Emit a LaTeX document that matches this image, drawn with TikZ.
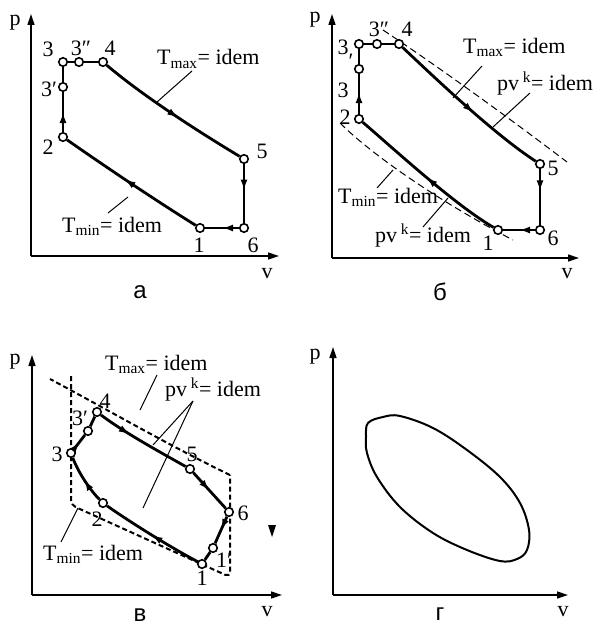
\documentclass[tikz,border=0pt]{standalone}
\usepackage{fontspec}
\setmainfont{Liberation Serif}
\newfontfamily\capfont{Liberation Sans}
\usetikzlibrary{arrows.meta,decorations.markings}
\tikzset{
  pnt/.style  ={draw, circle, minimum size=8.5pt, inner sep=0pt,
                fill=white, line width=1.6pt},
  cyc/.style  ={line width=2.8pt, line join=round},
  marr/.style ={postaction={decorate}, decoration={markings,
                mark=at position #1 with {\arrow{Latex[length=11pt,width=7pt]}}}},
  marr/.default=0.5,
  ax/.style   ={-{Triangle[length=11pt,width=7pt]}, line width=1.5pt},
  lead/.style ={line width=1pt},
  dsh/.style  ={dash pattern=on 7pt off 4pt, line width=1pt},
  dshB/.style ={dash pattern=on 5pt off 3pt, line width=2pt},
  lab/.style  ={font=\fontsize{22}{24}\selectfont, inner sep=0pt},
  capt/.style ={font=\capfont\fontsize{24}{26}\selectfont, inner sep=0pt},
}

\begin{document}
\begin{tikzpicture}[x=1pt,y=-1pt]
  \useasboundingbox (0,0) rectangle (592,626);

  % --- a : cycle with isotherms
  \coordinate (oA) at (31,256);
  \coordinate (pA) at (31,14);
  \coordinate (vA) at (279,256);
  \draw[ax] (oA) -- (pA);
  \draw[ax] (oA) -- (vA);
  \node[lab] (pAl) at (15,23) {p};
  \node[lab] (vAl) at (267,274) {v};
  \node[capt] (capA) at (140,292) {а};
  \node[pnt] (a3)  at (63,62) {};
  \node[pnt] (a3pp) at (79,62) {};
  \node[pnt] (a4)  at (103,62) {};
  \node[pnt] (a3p) at (63,87) {};
  \node[pnt] (a2)  at (63,137) {};
  \node[pnt] (a5)  at (244,159) {};
  \node[pnt] (a6)  at (244,228) {};
  \node[pnt] (a1)  at (200,228) {};
  \draw[cyc, marr] (a2) -- (a3p);
  \draw[cyc] (a3p) -- (a3) -- (a3pp) -- (a4);
  \draw[cyc, marr=0.55] (a4) .. controls (143,96) and (199,132) .. (a5);
  \draw[cyc, marr=0.45] (a5) -- (a6);
  \draw[cyc, marr] (a6) -- (a1);
  \draw[cyc, marr=0.55] (a1) .. controls (155,200) and (103,165) .. (a2);
  \node[lab] (a3l)  at (48,49) {3};
  \node[lab] (a3ppl) at (81,48) {3″};
  \node[lab] (a4l)  at (110,48) {4};
  \node[lab] (a3pl) at (49,89) {3′};
  \node[lab] (a2l)  at (48,147) {2};
  \node[lab] (a5l)  at (262,151) {5};
  \node[lab] (a6l)  at (253,245) {6};
  \node[lab] (a1l)  at (199,245) {1};
  \node[lab, anchor=base west] (aTmax) at (157,65) {T\textsubscript{max}= idem};
  \node[lab, anchor=base west] (aTmin) at (62,232) {T\textsubscript{min}= idem};
  \coordinate (aLa) at (192,71);  \coordinate (aLb) at (157,102);
  \coordinate (aLc) at (128,197); \coordinate (aLd) at (108,213);
  \draw[lead] (aLa) -- (aLb);
  \draw[lead] (aLc) -- (aLd);

  % --- b : cycle with isotherms and adiabats
  \coordinate (oB) at (332,258);
  \coordinate (pB) at (332,14);
  \coordinate (vB) at (579,258);
  \draw[ax] (oB) -- (pB);
  \draw[ax] (oB) -- (vB);
  \node[lab] (pBl) at (315,20) {p};
  \node[lab] (vBl) at (567,274) {v};
  \node[capt] (capB) at (440,292) {б};
  \draw[dsh] (383,30) .. controls (440,68) and (505,115) .. (567,162);
  \draw[dsh] (340,123) .. controls (372,155) and (440,202) .. (513,240);
  \node[pnt] (b3)  at (359,44) {};
  \node[pnt] (b3pp) at (377,44) {};
  \node[pnt] (b4)  at (399,44) {};
  \node[pnt] (b3p) at (359,69) {};
  \node[pnt] (b2)  at (359,119) {};
  \node[pnt] (b5)  at (540,164) {};
  \node[pnt] (b6)  at (540,230) {};
  \node[pnt] (b1)  at (498,230) {};
  \draw[cyc, marr=0.55] (b2) -- (b3p);
  \draw[cyc] (b3p) -- (b3) -- (b3pp) -- (b4);
  \draw[cyc, marr=0.55] (b4) .. controls (435,78) and (495,135) .. (b5);
  \draw[cyc, marr=0.4] (b5) -- (b6);
  \draw[cyc, marr] (b6) -- (b1);
  \draw[cyc, marr=0.5] (b1) .. controls (455,205) and (395,150) .. (b2);
  \node[lab] (b3l)  at (343,47) {3};
  \node[lab] (b3pl) at (351,61) {′};
  \node[lab] (b3ml) at (343,90) {3};
  \node[lab] (b2l)  at (345,117) {2};
  \node[lab] (b3ppl) at (379,29) {3″};
  \node[lab] (b4l)  at (407,29) {4};
  \node[lab] (b5l)  at (553,168) {5};
  \node[lab] (b6l)  at (553,238) {6};
  \node[lab] (b1l)  at (488,243) {1};
  \node[lab, anchor=base west] (bTmax) at (463,53) {T\textsubscript{max}= idem};
  \node[lab, anchor=base west] (bAdU) at (497,90) {pv\,\textsuperscript{k}= idem};
  \node[lab, anchor=base west] (bTmin) at (338,203) {T\textsubscript{min}= idem};
  \node[lab, anchor=base west] (bAdL) at (375,242) {pv\,\textsuperscript{k}= idem};
  \coordinate (bLa) at (482,66);  \coordinate (bLb) at (453,98);
  \coordinate (bLc) at (530,93);  \coordinate (bLd) at (493,127);
  \coordinate (bLe) at (393,170); \coordinate (bLf) at (377,188);
  \coordinate (bLg) at (448,198); \coordinate (bLh) at (423,227);
  \draw[lead] (bLa) -- (bLb);
  \draw[lead] (bLc) -- (bLd);
  \draw[lead] (bLe) -- (bLf);
  \draw[lead] (bLg) -- (bLh);

  % --- v : smooth cycle inside the limits
  \coordinate (oC) at (32,595);
  \coordinate (pC) at (32,355);
  \coordinate (vC) at (282,595);
  \draw[ax] (oC) -- (pC);
  \draw[ax] (oC) -- (vC);
  \node[lab] (pCl) at (15,362) {p};
  \node[lab] (vCl) at (267,612) {v};
  \node[capt] (capC) at (140,615) {в};
  \draw[dshB, rounded corners=5pt] (71,376) -- (71,505) -- (82,510) -- (230,577) -- (230,475);
  \draw[dshB] (230,475) .. controls (170,446) and (110,411) .. (50,379);
  \node[pnt] (c3)  at (71,453) {};
  \node[pnt] (c3p) at (88,431) {};
  \node[pnt] (c4)  at (97,412) {};
  \node[pnt] (c5)  at (190,469) {};
  \node[pnt] (c6)  at (229,512) {};
  \node[pnt] (c1p) at (213,548) {};
  \node[pnt] (c1)  at (202,564) {};
  \node[pnt] (c2)  at (103,503) {};
  \draw[cyc, marr] (c3) -- (c3p);
  \draw[cyc] (c3p) -- (c4);
  \draw[cyc, marr=0.35] (c4) .. controls (125,433) and (160,452) .. (c5);
  \draw[cyc, marr=0.5] (c5) -- (c6);
  \draw[cyc, marr=0.5] (c6) -- (c1p);
  \draw[cyc] (c1p) -- (c1);
  \draw[cyc, marr=0.5] (c1) .. controls (170,547) and (130,522) .. (c2);
  \draw[cyc, marr=0.5] (c2) .. controls (90,490) and (78,472) .. (c3);
  \node[lab] (c3l)  at (57,454) {3};
  \node[lab] (c3pl) at (80,418) {3′};
  \node[lab] (c4l)  at (105,401) {4};
  \node[lab] (c5l)  at (192,454) {5};
  \node[lab] (c6l)  at (243,513) {6};
  \node[lab] (c1pl) at (224,560) {1′};
  \node[lab] (c1l)  at (202,578) {1};
  \node[lab] (c2l)  at (97,519) {2};
  \node[lab, anchor=base west] (cTmax) at (105,370) {T\textsubscript{max}= idem};
  \node[lab, anchor=base west] (cAd) at (165,396) {pv\,\textsuperscript{k}= idem};
  \node[lab, anchor=base west] (cTmin) at (43,560) {T\textsubscript{min}= idem};
  \coordinate (cLa) at (157,375); \coordinate (cLb) at (140,410);
  \coordinate (cLc) at (193,401); \coordinate (cLd) at (153,445);
  \coordinate (cLe) at (143,508);
  \coordinate (cLf) at (78,508);  \coordinate (cLg) at (61,542);
  \draw[lead] (cLa) -- (cLb);
  \draw[lead] (cLc) -- (cLd);
  \draw[lead] (cLc) -- (cLe);
  \draw[lead] (cLf) -- (cLg);
  \fill (268,525) -- (276,525) -- (272,537) -- cycle;

  % --- g : real indicator loop
  \coordinate (oD) at (333,595);
  \coordinate (pD) at (333,347);
  \coordinate (vD) at (568,595);
  \draw[ax] (oD) -- (pD);
  \draw[ax] (oD) -- (vD);
  \node[lab] (pDl) at (315,357) {p};
  \node[lab] (vDl) at (563,612) {v};
  \node[capt] (capD) at (440,614) {г};
  \draw[line width=2pt] plot[smooth cycle, tension=0.6] coordinates {
    (368,423) (383,417) (400,416) (433,428) (467,450) (500,477)
    (520,503) (529,530) (527,550) (517,559) (500,561) (467,550)
    (433,533) (400,507) (377,477) (367,453) (366,437)};
\end{tikzpicture}
\end{document}
